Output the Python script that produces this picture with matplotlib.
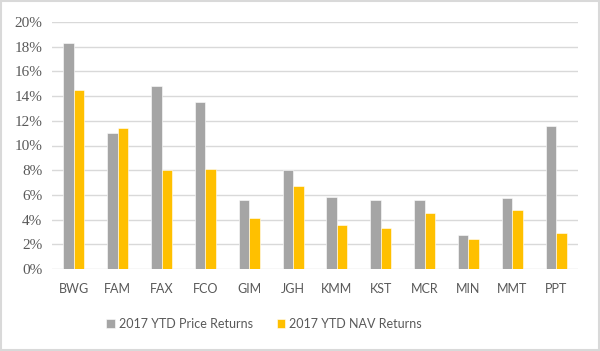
import matplotlib
matplotlib.use("Agg")
import matplotlib.pyplot as plt
import numpy as np
from matplotlib.patches import Rectangle

plt.rcParams["font.serif"] = ["Liberation Serif", "DejaVu Serif"]

tickers = ["BWG", "FAM", "FAX", "FCO", "GIM", "JGH", "KMM", "KST", "MCR", "MIN", "MMT", "PPT"]
price_returns = [18.3, 11.0, 14.85, 13.5, 5.55, 8.0, 5.85, 5.6, 5.6, 2.75, 5.75, 11.6]
nav_returns = [14.5, 11.4, 8.0, 8.1, 4.15, 6.7, 3.6, 3.3, 4.5, 2.4, 4.8, 2.9]
series_names = ["2017 YTD Price Returns", "2017 YTD NAV Returns"]
y_ticks = list(range(0, 21, 2))

gray = "#a5a5a5"
gold = "#ffc000"
txt = "#595959"

fig = plt.figure(figsize=(6, 3.51), dpi=100)
ax = fig.add_axes([52 / 600, 1 - 269 / 351, 526 / 600, 247 / 351])

x = np.arange(len(tickers))
w = 0.24
ax.bar(x - w / 2, price_returns, w, color=gray, label=series_names[0], edgecolor="white", linewidth=0.4, zorder=3)
ax.bar(x + w / 2, nav_returns, w, color=gold, label=series_names[1], edgecolor="white", linewidth=0.4, zorder=3)

ax.set_xlim(-0.5, len(tickers) - 0.5)
ax.set_ylim(0, 20)
ax.set_yticks(y_ticks)
ax.set_yticklabels(["%d%%" % v for v in y_ticks], fontfamily="serif", fontsize=11, color=txt)
ax.set_xticks(x)
ax.set_xticklabels(tickers, fontfamily="Lato", fontsize=9, color=txt)
ax.tick_params(length=0, pad=7)
ax.tick_params(axis="x", pad=10)
ax.grid(axis="y", color="#d9d9d9", linewidth=1, zorder=0)
for s in ax.spines.values():
    s.set_visible(False)

fig.legend(loc="center", bbox_to_anchor=(264 / 600, 1 - 324 / 351), ncol=2, frameon=False,
           prop={"family": "Lato", "size": 9}, handlelength=0.7, handleheight=0.7,
           handletextpad=0.3, columnspacing=1.9, labelcolor=txt)

fig.patches.append(Rectangle((0.002, 0.003), 0.996, 0.994, transform=fig.transFigure,
                             fill=False, edgecolor="#d9d9d9", linewidth=1.5))

fig.savefig("out.png", dpi=100)
